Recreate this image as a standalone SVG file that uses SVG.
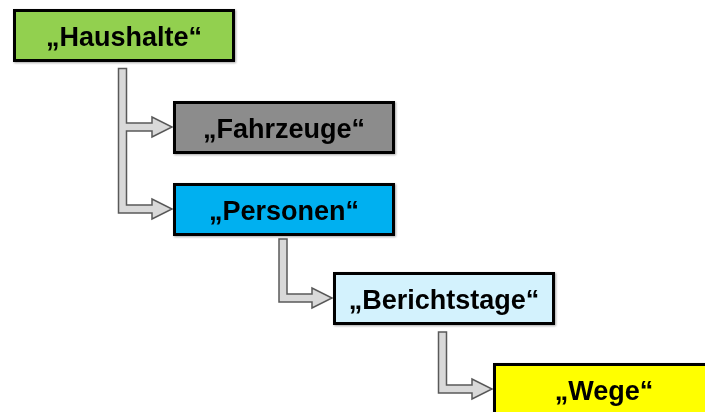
<svg xmlns="http://www.w3.org/2000/svg" width="705" height="412" viewBox="0 0 705 412">
  <defs>
    <style>
      .box { stroke: #000; stroke-width: 3; }
      .lbl { font-family: "Liberation Sans", Arial, sans-serif; font-weight: bold; font-size: 27px; fill: #000; text-anchor: middle; }
      .conn { fill: #d9d9d9; stroke: #595959; stroke-width: 1.5; stroke-linejoin: miter; }
    </style>
    <filter id="sh" x="-5%" y="-10%" width="110%" height="130%">
      <feGaussianBlur in="SourceAlpha" stdDeviation="1.2"/>
      <feOffset dx="0.5" dy="1" result="b"/>
      <feComponentTransfer><feFuncA type="linear" slope="0.35"/></feComponentTransfer>
      <feMerge><feMergeNode/><feMergeNode in="SourceGraphic"/></feMerge>
    </filter>
  </defs>
  <rect width="705" height="412" fill="#fff"/>

  <g id="connectors">
    <path class="conn" d="M118.5,68.5 H126.5 V123 H152 V117 L172,127 L152,137 V131 H126.5 V205 H152 V199 L172,209 L152,219 V213 H118.5 Z"/>
    <path class="conn" d="M279,239 H287 V294 H312 V288 L332,298 L312,308 V302 H279 Z"/>
    <path class="conn" d="M438.5,332 H446.5 V385 H472 V379 L492,389 L472,399 V393 H438.5 Z"/>
  </g>

  <g id="haushalte" filter="url(#sh)">
    <rect class="box" x="14.5" y="10.5" width="219" height="50" fill="#92d050"/>
    <text class="lbl" x="124" y="46">„Haushalte“</text>
  </g>
  <g id="fahrzeuge" filter="url(#sh)">
    <rect class="box" x="174.5" y="102.5" width="219" height="50" fill="#8c8c8c"/>
    <text class="lbl" x="284" y="137.5" fill="#111">„Fahrzeuge“</text>
  </g>
  <g id="personen" filter="url(#sh)">
    <rect class="box" x="174.5" y="184.5" width="219" height="50" fill="#00b0f0"/>
    <text class="lbl" x="284" y="219.5">„Personen“</text>
  </g>
  <g id="berichtstage" filter="url(#sh)">
    <rect class="box" x="334.5" y="273.5" width="219" height="50" fill="#d3f2fd"/>
    <text class="lbl" x="444" y="308.5">„Berichtstage“</text>
  </g>
  <g id="wege" filter="url(#sh)">
    <rect class="box" x="494.5" y="364.5" width="219" height="50" fill="#ffff00"/>
    <text class="lbl" x="604" y="399.5">„Wege“</text>
  </g>
</svg>
